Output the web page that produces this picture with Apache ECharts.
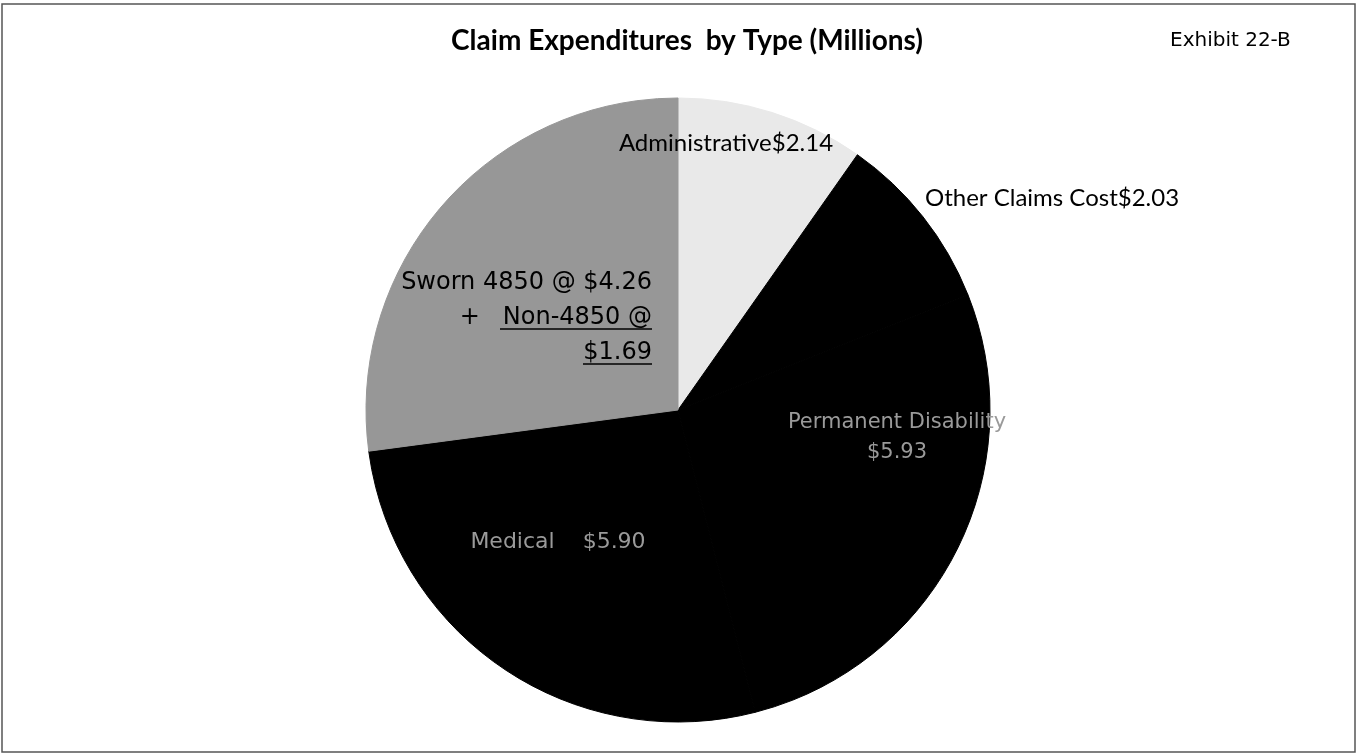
<!DOCTYPE html>
<html>
<head>
<meta charset="utf-8">
<script src="https://cdn.jsdelivr.net/npm/echarts@6/dist/echarts.min.js"></script>
<style>
  html, body { margin: 0; padding: 0; background: #fff; }
  #chart { width: 1361px; height: 756px; }
</style>
</head>
<body>
<div id="chart"></div>
<script>
// slices, clockwise from 12 o'clock
var categories = ['Administrative', 'Other Claims Cost', 'Permanent Disability', 'Medical', 'Sworn 4850 + Non-4850']
var values = [2.14, 2.03, 5.93, 5.90, 5.95]
var sworn4850 = 4.26
var nonSworn4850 = 1.69
var sliceColors = ['#e9e9e9', '#000000', '#000000', '#000000', '#979797']

// where each label sits
var labelSpots = [
    { x: 726, y: 143, align: 'center' },
    { x: 925, y: 198, align: 'left' },
    { x: 897, y: 438, align: 'center' },
    { x: 558, y: 542, align: 'center' },
    { x: 652, y: 318, align: 'right' }
]

var chart = echarts.init(document.getElementById('chart'))

var labelText = [
    function (v) { return 'Administrative$' + v.toFixed(2) },
    function (v) { return 'Other Claims Cost$' + v.toFixed(2) },
    function (v) { return 'Permanent Disability\n$' + v.toFixed(2) },
    function (v) { return 'Medical    $' + v.toFixed(2) },
    function () {
        return '{s|Sworn 4850 @ $' + sworn4850.toFixed(2) + '}\n{s|+   }{u|Non-4850 @}\n{u|$' + nonSworn4850.toFixed(2) + '}'
    }
]

var labelStyles = [
    { color: '#000', fontSize: 24, fontFamily: 'Lato' },
    { color: '#000', fontSize: 24, fontFamily: 'Lato' },
    { color: '#9a9a9a', fontSize: 21, fontFamily: 'DejaVu Sans', lineHeight: 30 },
    { color: '#9a9a9a', fontSize: 22, fontFamily: 'DejaVu Sans' },
    {
        color: '#000', fontSize: 24, fontFamily: 'DejaVu Sans', lineHeight: 35, align: 'right',
        rich: {
            s: { fontSize: 24, fontFamily: 'DejaVu Sans', color: '#000', lineHeight: 35 },
            u: { fontSize: 24, fontFamily: 'DejaVu Sans', color: '#000', lineHeight: 35 }
        }
    }
]

var seriesData = categories.map(function (name, i) {
    return {
        name: name,
        value: values[i],
        itemStyle: { color: sliceColors[i], borderColor: sliceColors[i], borderWidth: 1 },
        label: Object.assign({ show: true, position: 'inside', formatter: labelText[i].bind(null, values[i]) }, labelStyles[i])
    }
})

chart.setOption({
    animation: false,
    backgroundColor: '#fff',
    title: [{
        text: 'Claim Expenditures  by Type (Millions)',
        left: 682,
        top: 22,
        textAlign: 'center',
        textStyle: { fontFamily: 'Lato', fontWeight: 'bold', fontSize: 28, color: '#000' }
    }, {
        text: 'Exhibit 22-B',
        left: 1165,
        top: 26,
        textStyle: { fontFamily: 'DejaVu Sans', fontWeight: 'normal', fontSize: 20, color: '#000' }
    }],
    graphic: [{
        type: 'rect',
        shape: { x: 2, y: 4, width: 1353, height: 748 },
        style: { fill: 'none', stroke: '#555', lineWidth: 1.5 },
        z: 100
    }, {
        // underline under "Non-4850 @" and "$1.69"
        type: 'line',
        shape: { x1: 500, y1: 329, x2: 652, y2: 329 },
        style: { stroke: '#000', lineWidth: 1.5 },
        z: 100
    }, {
        type: 'line',
        shape: { x1: 583, y1: 364, x2: 652, y2: 364 },
        style: { stroke: '#000', lineWidth: 1.5 },
        z: 100
    }],
    series: [{
        type: 'pie',
        center: [678, 410],
        radius: 312,
        startAngle: 90,
        clockwise: true,
        labelLine: { show: false },
        emphasis: { disabled: true },
        data: seriesData,
        labelLayout: function (params) {
            var s = labelSpots[params.dataIndex]
            return { x: s.x, y: s.y, align: s.align, verticalAlign: 'middle' }
        }
    }]
})
</script>
</body>
</html>
